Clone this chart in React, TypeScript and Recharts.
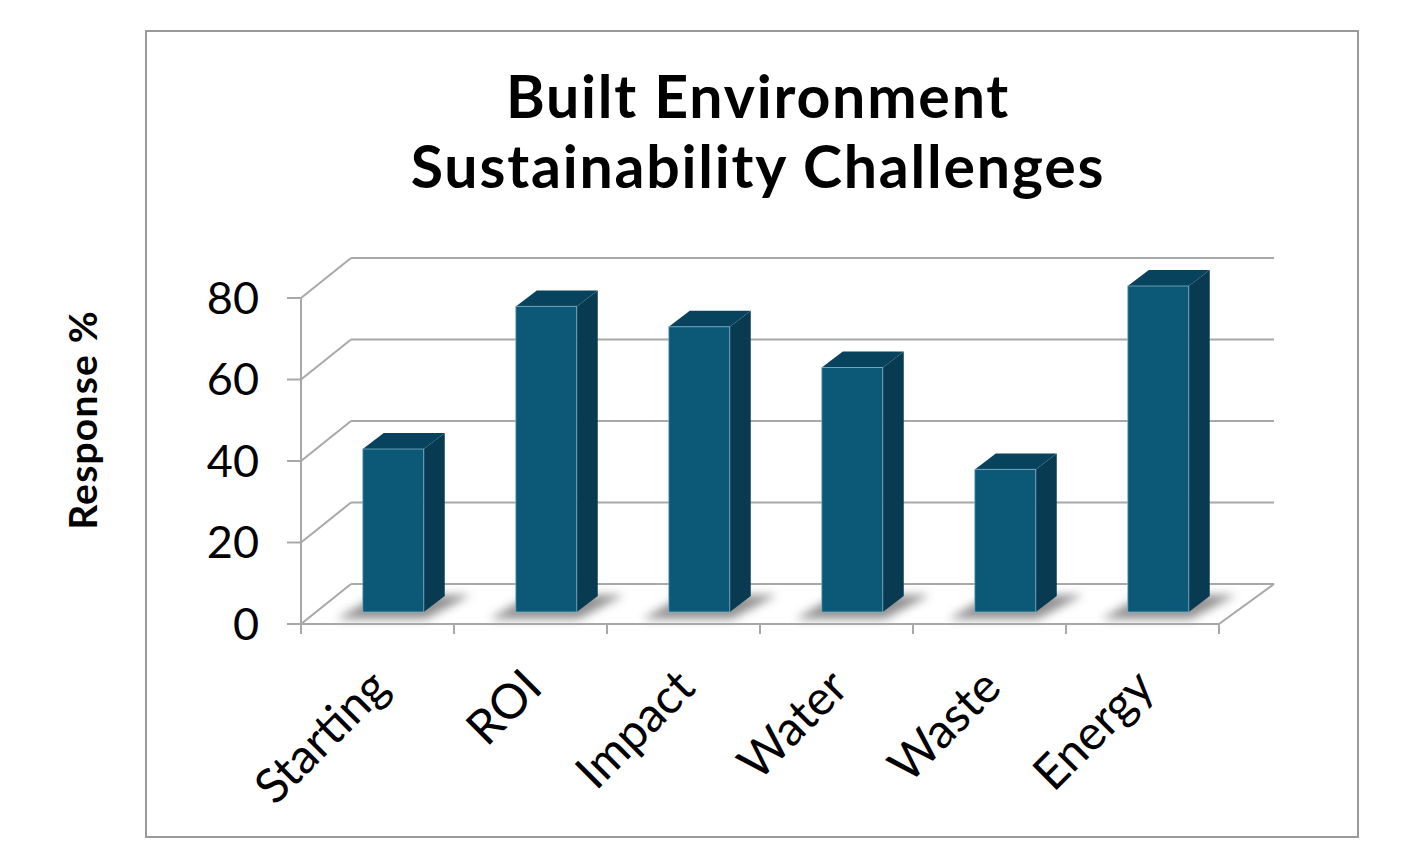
import React from "react";
import { BarChart, Bar, XAxis, YAxis, CartesianGrid } from "recharts";

// survey results
const categories = ["Starting", "ROI", "Impact", "Water", "Waste", "Energy"];
const responses = [40, 75, 70, 60, 35, 80];
const yTicks = [0, 20, 40, 60, 80];

const data = categories.map((name, i) => ({ name, value: responses[i] }));

const FONT = "Lato, 'Open Sans', sans-serif";
const GRID = "#a8a8a8";
const PLOT_LEFT = 301;
const PLOT_RIGHT = 1219;
const Y_AXIS_W = 100;
const BAND = (PLOT_RIGHT - PLOT_LEFT) / categories.length;

// fake 3D: back wall is shifted up/right from the front plane
const BACK_L = 50;
const BACK_R = 55;
const BACK_Y = -40;
const BAR_OFF = 0.3; // bars start 30% into the depth
const BAR_DEPTH = 0.4;

function Bar3D(props: any) {
  const { x, y, width, height } = props;
  if (height == null || width == null) return null;
  const dx = (BACK_L + BACK_R) / 2;
  const ox = x + dx * BAR_OFF;
  const oy = y + BACK_Y * BAR_OFF;
  const ddx = dx * BAR_DEPTH;
  const ddy = BACK_Y * BAR_DEPTH;
  const r = ox + width;
  const b = oy + height;
  return (
    <g>
      <polygon
        points={`${ox - 26},${b + 7} ${r + 2},${b + 7} ${r + ddx + 26},${b + ddy - 1} ${ox + ddx - 6},${b + ddy - 1}`}
        fill="#4a4a4a" opacity={0.6} filter="url(#floorShadow)"
      />
      <polygon
        points={`${r},${oy} ${r + ddx},${oy + ddy} ${r + ddx},${b + ddy} ${r},${b}`}
        fill="#083a51"
      />
      <polygon
        points={`${ox},${oy} ${r},${oy} ${r + ddx},${oy + ddy} ${ox + ddx},${oy + ddy}`}
        fill="#08435e"
      />
      <rect x={ox} y={oy} width={width} height={height} fill="#0b5877"
        stroke="rgba(130,180,205,0.75)" strokeWidth={1} />
    </g>
  );
}

// each horizontal grid line becomes the left-wall diagonal + back-wall line
function WallLine(p: any) {
  const { x1, x2, y1 } = p;
  return (
    <g key={p.key}>
      <line x1={x1} y1={y1} x2={x1 + BACK_L} y2={y1 + BACK_Y} stroke={GRID} strokeWidth={2} />
      <line x1={x1 + BACK_L} y1={y1 + BACK_Y} x2={x2 + BACK_R} y2={y1 + BACK_Y} stroke={GRID} strokeWidth={2} />
    </g>
  );
}

function XTick(props: any) {
  const { x, y, payload, index } = props;
  const last = index === categories.length - 1;
  const ax = x + 14;
  const ay = y + 66;
  return (
    <g>
      <line x1={x - BAND / 2} y1={y} x2={x - BAND / 2} y2={y + 10} stroke={GRID} strokeWidth={2} />
      {last && (
        <>
          <line x1={x + BAND / 2} y1={y} x2={x + BAND / 2} y2={y + 10} stroke={GRID} strokeWidth={2} />
          <line x1={x + BAND / 2} y1={y} x2={x + BAND / 2 + BACK_R} y2={y + BACK_Y} stroke={GRID} strokeWidth={2} />
        </>
      )}
      <text x={ax} y={ay} transform={`rotate(-45, ${ax}, ${ay})`} textAnchor="end"
        fontFamily={FONT} fontSize={48} fill="#000">
        {payload.value}
      </text>
    </g>
  );
}

export default function App() {
  return (
    <div style={{ position: "absolute", left: 0, top: 0, width: 1420, height: 856, background: "#fff" }}>
      <div style={{
        position: "absolute", left: 145, top: 30, width: 1214, height: 808,
        border: "2px solid #999", boxSizing: "border-box",
      }} />
      <div style={{
        position: "absolute", left: 158, top: 61, width: 1200, textAlign: "center",
        fontFamily: FONT, fontWeight: 700, fontSize: 59, lineHeight: "70px", letterSpacing: 1.8, color: "#000",
      }}>
        Built Environment<br />Sustainability Challenges
      </div>
      <div style={{
        position: "absolute", left: 82, top: 420, transform: "translate(-50%, -50%) rotate(-90deg)",
        whiteSpace: "nowrap", fontFamily: FONT, fontWeight: 700, fontSize: 39, letterSpacing: 1.2, color: "#000",
      }}>
        Response %
      </div>

      <div style={{ position: "absolute", left: 0, top: 0 }}>
        <BarChart width={1420} height={856} data={data}
          margin={{ top: 298, right: 1420 - PLOT_RIGHT, bottom: 132, left: PLOT_LEFT - Y_AXIS_W }}>
          <defs>
            <filter id="floorShadow" x="-50%" y="-50%" width="200%" height="200%">
              <feGaussianBlur stdDeviation="5" />
            </filter>
          </defs>
          <CartesianGrid vertical={false} horizontal={WallLine as any} />
          <XAxis dataKey="name" height={100} interval={0} tickSize={0} tickMargin={0} tickLine={false}
            axisLine={{ stroke: GRID, strokeWidth: 2 }} tick={<XTick />} />
          <YAxis width={Y_AXIS_W} domain={[0, 80]} ticks={yTicks} interval={0} tickSize={14} tickMargin={28}
            axisLine={{ stroke: GRID, strokeWidth: 2 }} tickLine={{ stroke: GRID, strokeWidth: 2 }}
            tick={{ fontSize: 45, fill: "#000", fontFamily: FONT }} />
          <Bar dataKey="value" barSize={61} shape={<Bar3D />} isAnimationActive={false} />
        </BarChart>
      </div>
    </div>
  );
}
